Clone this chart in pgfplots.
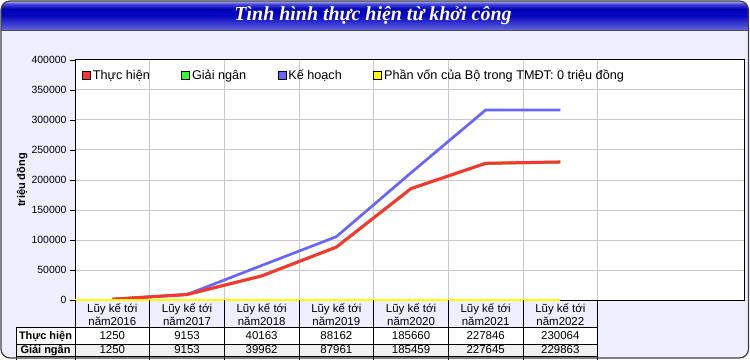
\documentclass[border=0pt]{standalone}
\usepackage{fontspec}
\setmainfont{Liberation Sans}
\newfontfamily\titlefont{Liberation Serif}
\usepackage{pgfplots}
\usepackage{pgfplotstable}
\pgfplotsset{compat=1.18}
\definecolor{bg}{HTML}{EEEEFF}
\definecolor{cred}{HTML}{FF3333}
\definecolor{cgreen}{HTML}{33FF33}
\definecolor{cblue}{HTML}{6666FF}
\definecolor{cyellow}{HTML}{FFFF00}
\definecolor{gridc}{HTML}{C8C8C8}
\definecolor{rowgray}{HTML}{F0F0F0}
\definecolor{tb0}{HTML}{B4B4F2}
\definecolor{tb1}{HTML}{4848D8}
\definecolor{tb2}{HTML}{0000B8}
\definecolor{tb3}{HTML}{0808C0}
\definecolor{tb4}{HTML}{6C6CE2}
\pgfdeclareverticalshading{titlebar}{100bp}{color(0bp)=(tb4); color(25bp)=(tb4); color(50bp)=(tb3); color(62bp)=(tb2); color(70bp)=(tb1); color(75bp)=(tb0); color(100bp)=(tb0)}

\pgfplotstableread{
x thuc giai ke
0 1250 1250 1250
1 9153 9153 9153
2 40163 39962 57500
3 88162 87961 105500
4 185660 185459 212000
5 227846 227645 316700
6 230064 229863 316700
}\data

\begin{document}
\begin{tikzpicture}[x=1bp,y=1bp]
\fill[white] (0,0) rectangle (750,360);
\fill[bg, rounded corners=9bp] (1,2) rectangle (748.5,359);
\begin{scope}
\clip[rounded corners=9bp] (1,2) rectangle (748.5,359);
\shade[shading=titlebar] (1,329) rectangle (748.5,359);
\end{scope}
\draw[black!70, line width=1bp] (1,329) -- (748.5,329);
\node[text=white, font=\titlefont\bfseries\itshape\fontsize{20}{22}\selectfont] at (373,344.5) {Tình hình thực hiện từ khởi công};

\begin{axis}[
  at={(75bp,60bp)}, anchor=south west,
  scale only axis, width=669bp, height=240bp,
  xmin=-0.5, xmax=8.46, ymin=0, ymax=400000,
  ytick={0,50000,...,400000},
  scaled y ticks=false,
  yticklabel style={/pgf/number format/.cd, fixed, 1000 sep={}},
  /pgf/number format/assume math mode=true,
  tick label style={font=\fontsize{10.5}{12}\selectfont},
  xtick={0.5,1.5,...,6.5}, xticklabels={},
  xtick style={draw=none},
  ytick pos=left,
  tick align=outside,
  major tick length=5bp,
  ytick style={black, line width=0.8bp},
  xmajorgrids, ymajorgrids,
  grid style={gridc, line width=1bp},
  axis line style={black, line width=1bp},
  axis background/.style={fill=white},
  clip=false,
  ylabel={triệu đồng},
  ylabel style={font=\bfseries\fontsize{11}{13}\selectfont, at={(axis description cs:-0.0792,0.5)}, anchor=center},
  legend columns=4,
  legend style={at={(0,1)}, anchor=north west, xshift=4bp, yshift=-6bp, draw=none, fill=none,
    font=\fontsize{12.7}{14}\selectfont,
    /tikz/every even column/.append style={column sep=29.5bp}},
  legend image code/.code={\draw[#1, draw=black, line width=0.7bp] (0bp,-4bp) rectangle (8bp,4bp);},
]
\addplot[cgreen, line width=3bp, forget plot] table[x=x,y=giai]{\data};
\addplot[cblue, line width=2.7bp, forget plot] table[x=x,y=ke]{\data};
\addplot[cred, line width=3bp, forget plot] table[x=x,y=thuc]{\data};
\addplot[cyellow, line width=2bp, forget plot] coordinates {(-0.5,0) (6,0)};
\addlegendimage{fill=cred}\addlegendentry{Thực hiện}
\addlegendimage{fill=cgreen}\addlegendentry{Giải ngân}
\addlegendimage{fill=cblue}\addlegendentry{Kế hoạch}
\addlegendimage{fill=cyellow}\addlegendentry{Phần vốn của Bộ trong TMĐT: 0 triệu đồng}
\end{axis}

% data table
\fill[white] (16,16) rectangle (597.7,32.5);
\fill[rowgray] (16,3.5) rectangle (597.7,16);
\draw[black, line width=0.8bp] (16,32.5) -- (597.7,32.5);
\draw[black, line width=0.8bp] (16,16) -- (597.7,16);
\draw[black, line width=0.8bp] (16,3.5) -- (597.7,3.5);
\draw[black, line width=0.8bp] (16,32.5) -- (16,0);
\foreach \k in {0,...,7} {
  \draw[black, line width=0.8bp] ({75+74.67*\k},60) -- ({75+74.67*\k},0);
}
\foreach \i/\y/\a/\b in {0/2016/1250/1250, 1/2017/9153/9153, 2/2018/40163/39962, 3/2019/88162/87961, 4/2020/185660/185459, 5/2021/227846/227645, 6/2022/230064/229863} {
  \node[anchor=base, inner sep=0, font=\fontsize{11.5}{13}\selectfont] at ({75+74.67*(\i+0.5)},47.3) {Lũy kế tới};
  \node[anchor=base, inner sep=0, font=\fontsize{11.5}{13}\selectfont] at ({75+74.67*(\i+0.5)},35) {năm\y};
  \node[anchor=base, inner sep=0, font=\fontsize{11.5}{13}\selectfont] at ({75+74.67*(\i+0.5)},20.7) {\a};
  \node[anchor=base, inner sep=0, font=\fontsize{11.5}{13}\selectfont] at ({75+74.67*(\i+0.5)},6.7) {\b};
}
\node[anchor=base, inner sep=0, font=\bfseries\fontsize{11}{13}\selectfont] at (45.5,20.7) {Thực hiện};
\node[anchor=base, inner sep=0, font=\bfseries\fontsize{11}{13}\selectfont] at (45.5,6.7) {Giải ngân};

\draw[black!75, line width=1.2bp, rounded corners=9bp] (1,2) rectangle (748.5,359);
\pgfresetboundingbox
\path[use as bounding box] (0,0) rectangle (750,360);
\end{tikzpicture}
\end{document}
